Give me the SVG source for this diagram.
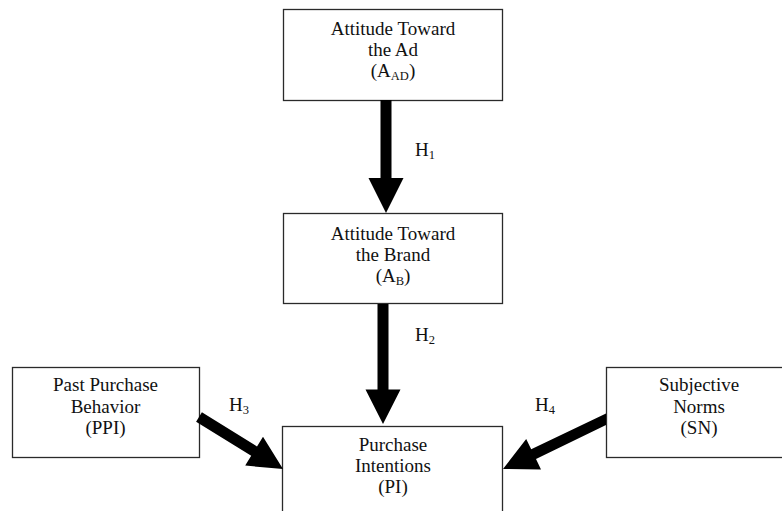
<svg xmlns="http://www.w3.org/2000/svg" width="782" height="511" viewBox="0 0 782 511">
  <style>
    .box { fill: #ffffff; stroke: #2a2a2a; stroke-width: 1.3; }
    .lbl { font-family: "Liberation Serif", "Times New Roman", serif; font-size: 19px; fill: #111111; text-anchor: middle; }
    .hyp { font-family: "Liberation Serif", "Times New Roman", serif; font-size: 19px; fill: #111111; }
    .sub { font-size: 12.5px; }
    .arrow { fill: #000000; }
  </style>
  <rect width="782" height="511" fill="#ffffff"/>

  <!-- Nodes -->
  <g id="node-aad">
    <rect class="box" x="283.5" y="9.5" width="219" height="91"/>
    <text class="lbl" x="393" y="35">Attitude Toward</text>
    <text class="lbl" x="393" y="56">the Ad</text>
    <text class="lbl" x="393" y="77">(A<tspan class="sub" dy="3">AD</tspan><tspan dy="-3">)</tspan></text>
  </g>

  <g id="node-ab">
    <rect class="box" x="283.5" y="213.5" width="219" height="90"/>
    <text class="lbl" x="393" y="240">Attitude Toward</text>
    <text class="lbl" x="393" y="261">the Brand</text>
    <text class="lbl" x="393" y="282">(A<tspan class="sub" dy="3">B</tspan><tspan dy="-3">)</tspan></text>
  </g>

  <g id="node-pi">
    <rect class="box" x="282.5" y="426.5" width="220" height="100"/>
    <text class="lbl" x="393" y="451">Purchase</text>
    <text class="lbl" x="393" y="472">Intentions</text>
    <text class="lbl" x="393" y="493">(PI)</text>
  </g>

  <g id="node-ppi">
    <rect class="box" x="12.5" y="367.5" width="187" height="90"/>
    <text class="lbl" x="105.5" y="391">Past Purchase</text>
    <text class="lbl" x="105.5" y="413">Behavior</text>
    <text class="lbl" x="105.5" y="434">(PPI)</text>
  </g>

  <g id="node-sn">
    <rect class="box" x="606.5" y="367.5" width="190" height="90"/>
    <text class="lbl" x="699" y="391">Subjective</text>
    <text class="lbl" x="699" y="413">Norms</text>
    <text class="lbl" x="699" y="434">(SN)</text>
  </g>

  <!-- Connectors: block arrows with hypothesis labels -->
  <g id="connectors">
    <polygon class="arrow" points="380.5,100 391.5,100 391.5,178 403.5,178 386,213 368.5,178 380.5,178"/>
    <polygon class="arrow" points="377.5,304 388.5,304 388.5,389.5 400.5,389.5 383,424 365.5,389.5 377.5,389.5"/>
    <polygon class="arrow" points="201.9,412.3 257.0,446.4 263.0,436.7 283,469 245.2,465.6 251.2,455.8 196.1,421.7"/>
    <polygon class="arrow" points="606,413.5 531.2,449.2 526.2,438.9 503,469 541.0,469.4 536.0,459.1 606,425"/>

    <text class="hyp" x="415" y="156">H<tspan class="sub" dy="3">1</tspan></text>
    <text class="hyp" x="415" y="341">H<tspan class="sub" dy="3">2</tspan></text>
    <text class="hyp" x="229" y="411">H<tspan class="sub" dy="3">3</tspan></text>
    <text class="hyp" x="535" y="411">H<tspan class="sub" dy="3">4</tspan></text>
  </g>
</svg>
